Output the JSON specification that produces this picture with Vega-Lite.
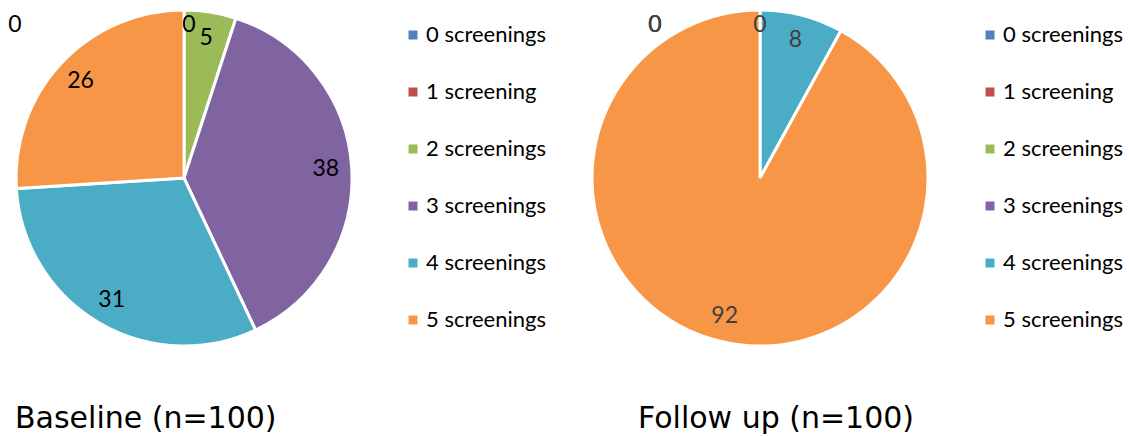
{
  "$schema": "https://vega.github.io/schema/vega-lite/v6.json",
  "padding": 0,
  "background": "white",
  "bounds": "flush",
  "spacing": 208,
  "config": {"view": {"stroke": null}},
  "resolve": {"legend": {"color": "independent"}, "scale": {"color": "independent", "theta": "independent"}},
  "hconcat": [
    {
      "width": 368,
      "height": 356,
      "title": {"text": "Baseline (n=100)", "orient": "bottom", "anchor": "start", "frame": "group", "dx": 15, "offset": 48, "font": "DejaVu Sans", "fontSize": 30, "fontWeight": "normal", "color": "black"},
      "data": {"values": [
        {"category": "0 screenings", "k": 0, "value": 0},
        {"category": "1 screening", "k": 1, "value": 0},
        {"category": "2 screenings", "k": 2, "value": 5},
        {"category": "3 screenings", "k": 3, "value": 38},
        {"category": "4 screenings", "k": 4, "value": 31},
        {"category": "5 screenings", "k": 5, "value": 26}
      ]},
      "layer": [
        {
          "mark": {"type": "arc", "outerRadius": 168, "stroke": "white", "strokeWidth": 3},
          "encoding": {
            "theta": {"field": "value", "type": "quantitative", "stack": true},
            "order": {"field": "k", "type": "quantitative"},
            "color": {"field": "category", "type": "nominal",
              "scale": {"domain": ["0 screenings", "1 screening", "2 screenings", "3 screenings", "4 screenings", "5 screenings"],
                        "range": ["#4F81BD", "#C0504D", "#9BBB59", "#8064A2", "#4BACC6", "#F79646"]},
              "legend": {"orient": "none", "legendX": 402, "legendY": 24, "title": null, "symbolType": "square", "symbolSize": 81, "symbolStrokeWidth": 0, "labelFont": "Lato", "labelFontSize": 22, "labelColor": "black", "rowPadding": 35, "labelOffset": 2, "padding": 0}}
          }
        },
        {
          "transform": [{"filter": "datum.value > 0"}],
          "mark": {"type": "text", "radius": 142, "font": "Lato", "fontSize": 23, "color": "black"},
          "encoding": {
            "theta": {"field": "value", "type": "quantitative", "stack": true},
            "order": {"field": "k", "type": "quantitative"},
            "detail": {"field": "category"},
            "text": {"field": "value", "type": "quantitative"}
          }
        },
        {
          "transform": [{"filter": "datum.k == 1"}],
          "mark": {"type": "text", "radius": 153, "dx": 5, "font": "Lato", "fontSize": 23, "color": "black"},
          "encoding": {
            "theta": {"field": "value", "type": "quantitative", "stack": true},
            "detail": {"field": "category"},
            "text": {"field": "value", "type": "quantitative"}
          }
        },
        {
          "transform": [{"filter": "datum.k == 0"}],
          "mark": {"type": "text", "radius": 153, "dx": -169, "font": "Lato", "fontSize": 23, "color": "black"},
          "encoding": {
            "theta": {"field": "value", "type": "quantitative", "stack": true},
            "detail": {"field": "category"},
            "text": {"field": "value", "type": "quantitative"}
          }
        }
      ]
    },
    {
      "width": 368,
      "height": 356,
      "title": {"text": "Follow up (n=100)", "orient": "bottom", "anchor": "start", "frame": "group", "dx": 62, "offset": 48, "font": "DejaVu Sans", "fontSize": 30, "fontWeight": "normal", "color": "black"},
      "data": {"values": [
        {"category": "0 screenings", "k": 0, "value": 0},
        {"category": "1 screening", "k": 1, "value": 0},
        {"category": "2 screenings", "k": 2, "value": 0},
        {"category": "3 screenings", "k": 3, "value": 0},
        {"category": "4 screenings", "k": 4, "value": 8},
        {"category": "5 screenings", "k": 5, "value": 92}
      ]},
      "layer": [
        {
          "mark": {"type": "arc", "outerRadius": 168, "stroke": "white", "strokeWidth": 3},
          "encoding": {
            "theta": {"field": "value", "type": "quantitative", "stack": true},
            "order": {"field": "k", "type": "quantitative"},
            "color": {"field": "category", "type": "nominal",
              "scale": {"domain": ["0 screenings", "1 screening", "2 screenings", "3 screenings", "4 screenings", "5 screenings"],
                        "range": ["#4F81BD", "#C0504D", "#9BBB59", "#8064A2", "#4BACC6", "#F79646"]},
              "legend": {"orient": "none", "legendX": 403, "legendY": 24, "title": null, "symbolType": "square", "symbolSize": 81, "symbolStrokeWidth": 0, "labelFont": "Lato", "labelFontSize": 22, "labelColor": "black", "rowPadding": 35, "labelOffset": 2, "padding": 0}}
          }
        },
        {
          "transform": [{"filter": "datum.value > 0"}],
          "mark": {"type": "text", "radius": 142, "font": "Lato", "fontSize": 23, "color": "#404040"},
          "encoding": {
            "theta": {"field": "value", "type": "quantitative", "stack": true},
            "order": {"field": "k", "type": "quantitative"},
            "detail": {"field": "category"},
            "text": {"field": "value", "type": "quantitative"}
          }
        },
        {
          "transform": [{"filter": "datum.k == 3"}],
          "mark": {"type": "text", "radius": 153, "dx": 0, "font": "Lato", "fontSize": 23, "color": "#404040"},
          "encoding": {
            "theta": {"field": "value", "type": "quantitative", "stack": true},
            "detail": {"field": "category"},
            "text": {"field": "value", "type": "quantitative"}
          }
        },
        {
          "transform": [{"filter": "datum.k <= 2"}],
          "mark": {"type": "text", "radius": 153, "dx": -105, "font": "Lato", "fontSize": 23, "color": "#404040"},
          "encoding": {
            "theta": {"field": "value", "type": "quantitative", "stack": true},
            "detail": {"field": "category"},
            "text": {"field": "value", "type": "quantitative"}
          }
        }
      ]
    }
  ]
}
